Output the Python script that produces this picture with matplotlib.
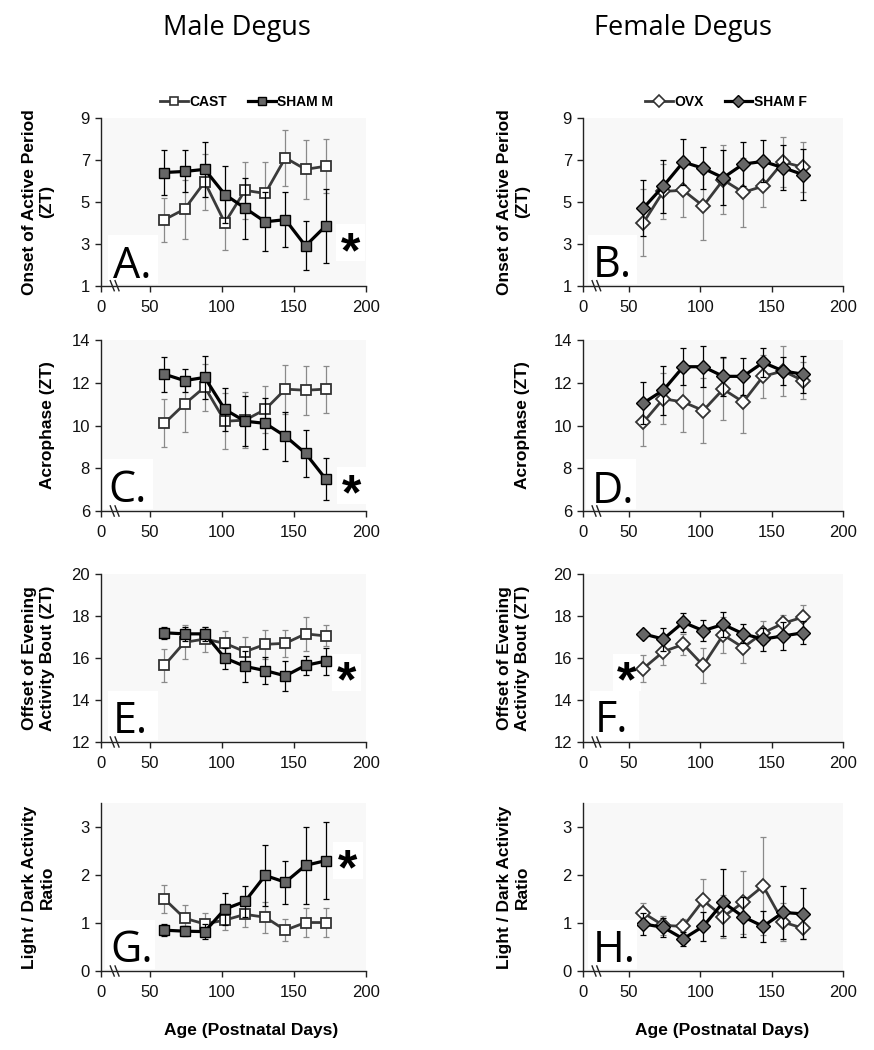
import matplotlib
matplotlib.use("Agg")
import matplotlib.pyplot as plt
from matplotlib.lines import Line2D
from matplotlib.patches import Rectangle

# ---------------- data ----------------
ages = [60, 74, 88, 102, 116, 130, 144, 158, 172]

cast_onset = [4.15, 4.65, 5.95, 4.0, 5.55, 5.4, 7.1, 6.55, 6.7]
cast_onset_err = [1.05, 1.4, 1.35, 1.3, 1.37, 1.5, 1.35, 1.4, 1.3]
shamm_onset = [6.4, 6.45, 6.55, 5.35, 4.7, 4.05, 4.15, 2.9, 3.85]
shamm_onset_err = [1.05, 1.0, 1.3, 1.37, 1.46, 1.4, 1.3, 1.17, 1.77]

ovx_onset = [4.0, 5.5, 5.55, 4.8, 6.05, 5.45, 5.75, 6.9, 6.65]
ovx_onset_err = [1.6, 1.3, 1.27, 1.6, 1.65, 1.66, 1.0, 1.2, 1.2]
shamf_onset = [4.7, 5.75, 6.9, 6.6, 6.15, 6.8, 6.93, 6.63, 6.3]
shamf_onset_err = [1.35, 1.27, 1.1, 1.0, 1.3, 1.06, 1.0, 1.06, 1.2]

cast_acro = [10.1, 11.0, 11.8, 10.2, 10.25, 10.75, 11.7, 11.65, 11.7]
cast_acro_err = [1.12, 1.3, 1.1, 1.3, 1.3, 1.1, 1.15, 1.15, 1.1]
shamm_acro = [12.4, 12.1, 12.25, 10.75, 10.2, 10.1, 9.5, 8.7, 7.5]
shamm_acro_err = [0.82, 0.55, 1.0, 1.0, 1.17, 1.2, 1.15, 1.1, 1.0]

ovx_acro = [10.15, 11.25, 11.1, 10.7, 11.7, 11.1, 12.3, 12.55, 12.1]
ovx_acro_err = [1.1, 1.2, 1.4, 1.5, 1.45, 1.43, 1.0, 1.15, 0.86]
shamf_acro = [11.05, 11.65, 12.75, 12.75, 12.3, 12.3, 12.95, 12.55, 12.4]
shamf_acro_err = [1.0, 1.15, 0.87, 0.95, 0.9, 0.87, 0.67, 0.65, 0.86]

cast_offset = [15.65, 16.75, 16.9, 16.7, 16.3, 16.65, 16.7, 17.15, 17.05]
cast_offset_err = [0.8, 0.8, 0.6, 0.6, 0.7, 0.7, 0.65, 0.8, 0.5]
shamm_offset = [17.2, 17.15, 17.15, 16.0, 15.6, 15.4, 15.15, 15.65, 15.85]
shamm_offset_err = [0.3, 0.35, 0.35, 0.5, 0.75, 0.65, 0.7, 0.45, 0.65]

ovx_offset = [15.5, 16.3, 16.65, 15.65, 17.1, 16.5, 17.2, 17.65, 17.95]
ovx_offset_err = [0.65, 0.65, 0.5, 0.85, 0.85, 0.73, 0.55, 0.4, 0.57]
shamf_offset = [17.15, 16.9, 17.7, 17.3, 17.6, 17.15, 16.9, 17.05, 17.2]
shamf_offset_err = [0.2, 0.55, 0.45, 0.5, 0.6, 0.45, 0.55, 0.65, 0.55]

cast_ratio = [1.5, 1.1, 0.98, 1.06, 1.18, 1.12, 0.85, 1.01, 1.01]
cast_ratio_err = [0.3, 0.28, 0.22, 0.2, 0.27, 0.32, 0.23, 0.3, 0.3]
shamm_ratio = [0.85, 0.83, 0.82, 1.29, 1.45, 1.99, 1.85, 2.2, 2.3]
shamm_ratio_err = [0.12, 0.1, 0.15, 0.33, 0.33, 0.64, 0.45, 0.8, 0.8]

ovx_ratio = [1.21, 0.95, 0.93, 1.47, 1.13, 1.43, 1.77, 1.02, 0.89]
ovx_ratio_err = [0.21, 0.2, 0.15, 0.45, 0.45, 0.65, 1.03, 0.4, 0.23]
shamf_ratio = [0.98, 0.91, 0.67, 0.93, 1.43, 1.13, 0.93, 1.22, 1.19]
shamf_ratio_err = [0.23, 0.2, 0.14, 0.3, 0.7, 0.42, 0.33, 0.56, 0.53]

x_tick_labels = ["0", "50", "100", "150", "200"]
col_titles = ["Male Degus", "Female Degus"]
male_labels = ["CAST", "SHAM M"]
female_labels = ["OVX", "SHAM F"]
ylabels = ["Onset of Active Period\n(ZT)", "Acrophase (ZT)",
           "Offset of Evening\nActivity Bout (ZT)", "Light / Dark Activity\nRatio"]
ylims = [(1, 9), (6, 14), (12, 20), (0, 3.5)]
yticks = [[1, 3, 5, 7, 9], [6, 8, 10, 12, 14], [12, 14, 16, 18, 20], [0, 1, 2, 3]]
letters = [["A.", "B."], ["C.", "D."], ["E.", "F."], ["G.", "H."]]

male_data = [(cast_onset, cast_onset_err, shamm_onset, shamm_onset_err),
             (cast_acro, cast_acro_err, shamm_acro, shamm_acro_err),
             (cast_offset, cast_offset_err, shamm_offset, shamm_offset_err),
             (cast_ratio, cast_ratio_err, shamm_ratio, shamm_ratio_err)]
female_data = [(ovx_onset, ovx_onset_err, shamf_onset, shamf_onset_err),
               (ovx_acro, ovx_acro_err, shamf_acro, shamf_acro_err),
               (ovx_offset, ovx_offset_err, shamf_offset, shamf_offset_err),
               (ovx_ratio, ovx_ratio_err, shamf_ratio, shamf_ratio_err)]

# ---------------- layout ----------------
W, H = 874, 1050
fig = plt.figure(figsize=(W / 100, H / 100), dpi=100)
plt.rcParams['font.family'] = ['Liberation Sans', 'DejaVu Sans']

col_left = [101, 583]
col_right = [366, 843]
col_xmin = [16.0, 17.7]
row_top = [118, 340, 574, 803]
row_bot = [285.7, 511, 742, 971]

ylabel_x = [-0.175, -0.205]
letter_pos = [[(0.045, 0.046), (0.038, 0.054)],
              [(0.027, 0.054), (0.033, 0.047)],
              [(0.045, 0.054), (0.046, 0.06)],
              [(0.035, 0.055), (0.038, 0.055)]]
star_pos = {(0, 0): (0.94, 0.19), (1, 0): (0.947, 0.085), (2, 0): (0.928, 0.35),
            (3, 0): (0.932, 0.595), (2, 1): (0.169, 0.35)}

open_line = '#3a3a3a'
open_err = '#8a8a8a'
dark_face = '#666666'

for c in range(2):
    for r in range(4):
        l = col_left[c] / W
        w = (col_right[c] - col_left[c]) / W
        b = 1 - row_bot[r] / H
        h = (row_bot[r] - row_top[r]) / H
        ax = fig.add_axes([l, b, w, h])
        ax.set_facecolor('#f8f8f8')
        data = male_data[r] if c == 0 else female_data[r]
        mk = 's' if c == 0 else 'D'
        ms = 6.5 if c == 0 else 7.5
        o, oe, s, se = data
        # open series
        ax.errorbar(ages, o, yerr=oe, fmt='none', ecolor=open_err, elinewidth=0.9,
                    capsize=2.5, capthick=0.9, zorder=2)
        ax.plot(ages, o, color=open_line, lw=2.0, marker=mk, ms=ms,
                mfc='white', mec='#333333', mew=1.3, zorder=3)
        # sham series
        ax.errorbar(ages, s, yerr=se, fmt='none', ecolor='black', elinewidth=0.9,
                    capsize=2.5, capthick=0.9, zorder=4)
        ax.plot(ages, s, color='black', lw=2.3, marker=mk, ms=ms,
                mfc=dark_face, mec='black', mew=1.0, zorder=5)

        ax.set_xlim(col_xmin[c], 200)
        ax.set_ylim(*ylims[r])
        ax.set_xticks([col_xmin[c], 50, 100, 150, 200])
        ax.set_xticklabels(x_tick_labels)
        ax.set_yticks(yticks[r])
        ax.set_yticklabels([str(v) for v in yticks[r]])
        for sp in ['top', 'right']:
            ax.spines[sp].set_visible(False)
        for sp in ['left', 'bottom']:
            ax.spines[sp].set_color('#222222')
            ax.spines[sp].set_linewidth(1.0)
        ax.tick_params(axis='both', direction='out', length=4, width=1.0,
                       colors='#222222', labelsize=12, labelcolor='#111111', pad=4)
        ax.tick_params(axis='x', pad=6)

        ax.set_ylabel(ylabels[r], fontsize=12.5, fontweight='bold', linespacing=1.2)
        ax.yaxis.set_label_coords(ylabel_x[c], 0.5)

        # axis break marks
        for dx in (0.0, 0.018):
            ax.plot([0.035 + dx, 0.05 + dx], [0.03, -0.03], transform=ax.transAxes,
                    color='#222222', lw=1.0, clip_on=False, zorder=10)

        lx, ly = letter_pos[r][c]
        ax.add_patch(Rectangle((lx - 0.02, 0.012), 0.19, 0.29, transform=ax.transAxes,
                               facecolor='white', edgecolor='none', zorder=6))
        ax.text(lx, ly, letters[r][c], transform=ax.transAxes, fontsize=31,
                family=['Open Sans', 'DejaVu Sans'], va='baseline', ha='left',
                zorder=7)

        if (r, c) in star_pos:
            sx, sy = star_pos[(r, c)]
            ax.add_patch(Rectangle((sx - 0.055, sy + 0.065 - 0.11), 0.11, 0.22,
                                   transform=ax.transAxes, facecolor='white',
                                   edgecolor='none', zorder=1.5, clip_on=False))
            ax.text(sx, sy, "*", transform=ax.transAxes, fontsize=36,
                    fontweight='bold', ha='center', va='center', zorder=7)

        if r == 0:
            labs = male_labels if c == 0 else female_labels
            handles = [Line2D([], [], color=open_line, lw=2.0, marker=mk, ms=ms - 1,
                              mfc='white', mec='#333333', mew=1.2),
                       Line2D([], [], color='black', lw=2.3, marker=mk, ms=ms - 1,
                              mfc=dark_face, mec='black', mew=1.0)]
            ax.legend(handles, labs, loc='lower center', bbox_to_anchor=(0.55, 1.02),
                      ncol=2, frameon=True, facecolor='white', edgecolor='none',
                      handlelength=2.0, handletextpad=0.1, columnspacing=1.5,
                      borderaxespad=0, fancybox=False,
                      prop={'weight': 'bold', 'size': 10})

# column titles
fig.text(237 / W, 1 - 28 / H, col_titles[0], fontsize=19.5,
         family=['Open Sans', 'DejaVu Sans'], ha='center', va='center')
fig.text(683 / W, 1 - 28 / H, col_titles[1], fontsize=19.5,
         family=['Open Sans', 'DejaVu Sans'], ha='center', va='center')

# x labels
fig.text(251 / W, 1 - 1030 / H, "Age (Postnatal Days)", fontsize=12.5,
         fontweight='bold', ha='center', va='center')
fig.text(722 / W, 1 - 1030 / H, "Age (Postnatal Days)", fontsize=12.5,
         fontweight='bold', ha='center', va='center')

fig.savefig("out.png", dpi=100, facecolor='white')
